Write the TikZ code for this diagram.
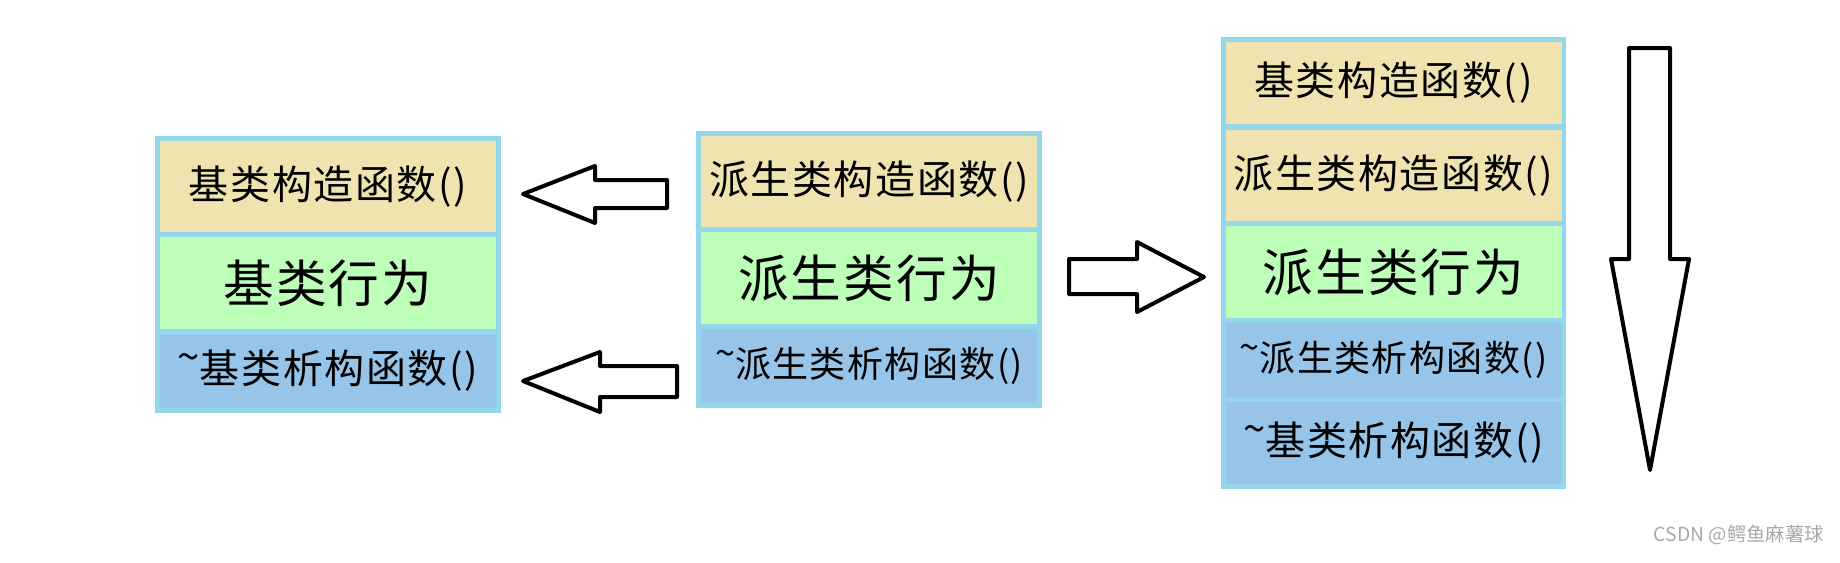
\documentclass[tikz,border=0pt]{standalone}
\usepackage{fontspec}
\setmainfont{Noto Sans CJK SC}
\newfontfamily\cellfont[LetterSpace=4]{Noto Sans CJK SC}
\definecolor{tanc}{HTML}{EFE3B0}
\definecolor{greenc}{HTML}{BDFFB9}
\definecolor{bluec}{HTML}{97C4E9}
\definecolor{framec}{HTML}{94D6EA}
\definecolor{wmc}{HTML}{A8A8A8}
\newcommand{\tld}{\raisebox{0.3em}{\textasciitilde}}
\tikzset{
  frame/.style={fill=framec, draw=none},
  cell/.style={draw=none, inner sep=0pt, outer sep=0pt, minimum width=252pt},
  tall/.style={cell, minimum height=68.5pt},
  short/.style={cell, minimum height=55.5pt},
  mid/.style={cell, minimum height=61.5pt},
  ctor/.style={fill=tanc, font=\cellfont\fontsize{30pt}{32pt}\selectfont},
  body/.style={fill=greenc, font=\cellfont\fontsize{38pt}{40pt}\selectfont},
  dtor/.style={fill=bluec, font=\cellfont\fontsize{30pt}{32pt}\selectfont},
  dtorsm/.style={fill=bluec, font=\cellfont\fontsize{27pt}{29pt}\selectfont},
  bigarrow/.style={draw=black, fill=white, line width=3pt, line join=round}
}
\begin{document}
\begin{tikzpicture}[x=0.75pt, y=-0.75pt]
\useasboundingbox (0,0) rectangle (1840,562);
% left block
\fill[frame] (155,136) rectangle (501,413);
\node[tall, ctor] (l1) at (328,186.5) {基类构造函数()};
\node[tall, body] (l2) at (328,283) {基类行为};
\node[short, dtor] (l3) at (328,371) {\tld 基类析构函数()};
% middle block
\fill[frame] (696,131) rectangle (1042,408);
\node[tall, ctor] (m1) at (869,181.5) {派生类构造函数()};
\node[tall, body] (m2) at (869,278) {派生类行为};
\node[short, dtorsm] (m3) at (869,366) {\tld 派生类析构函数()};
% right block
\fill[frame] (1221,37) rectangle (1566,489);
\node[mid, ctor] (r1) at (1393.5,83) {基类构造函数()};
\node[tall, ctor] (r2) at (1393.5,175.5) {派生类构造函数()};
\node[tall, body] (r3) at (1393.5,272) {派生类行为};
\node[short, dtorsm] (r4) at (1393.5,360) {\tld 派生类析构函数()};
\node[mid, dtor] (r5) at (1393.5,443) {\tld 基类析构函数()};
% arrows
\draw[bigarrow] (523,194) -- (595,166) -- (595,180) -- (667,180) -- (667,208) -- (595,208) -- (595,223) -- cycle;
\draw[bigarrow] (523,381) -- (600,352) -- (600,366) -- (677,366) -- (677,397) -- (600,397) -- (600,412) -- cycle;
\draw[bigarrow] (1204,277) -- (1137,242) -- (1137,259) -- (1069,259) -- (1069,294) -- (1137,294) -- (1137,312) -- cycle;
\draw[bigarrow] (1650,470) -- (1611,259) -- (1629,259) -- (1629,48) -- (1670,48) -- (1670,259) -- (1689,259) -- cycle;
% watermark
\node[anchor=east, text=wmc, font=\fontsize{14.5pt}{16pt}\selectfont, inner sep=0pt] (wm) at (1824,535) {CSDN @鳄鱼麻薯球};
\end{tikzpicture}
\end{document}
